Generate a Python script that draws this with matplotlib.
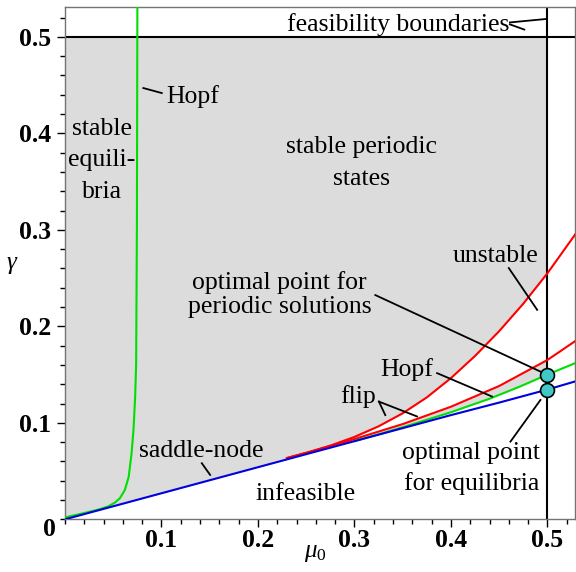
import numpy as np
import matplotlib.pyplot as plt
from matplotlib.ticker import MultipleLocator

plt.rcParams['font.family'] = ['Liberation Serif', 'DejaVu Serif']
plt.rcParams['mathtext.fontset'] = 'custom'
plt.rcParams['mathtext.rm'] = 'Liberation Serif'
plt.rcParams['mathtext.it'] = 'Liberation Serif:italic'

# saddle-node curve (blue)
sn_mu = [0, 0.05, 0.1, 0.15, 0.2, 0.25, 0.3, 0.35, 0.4, 0.45, 0.5, 0.529]
sn_gam = [0, 0.0135, 0.027, 0.0405, 0.054, 0.0675, 0.081, 0.0945, 0.108, 0.121, 0.1345, 0.143]

# Hopf curve of the equilibria (green, left)
hopf_eq_mu = [0, 0.02, 0.035, 0.045, 0.052, 0.057, 0.062, 0.066, 0.069, 0.071, 0.0727, 0.0737, 0.0745, 0.075]
hopf_eq_gam = [0.002, 0.0065, 0.0102, 0.0135, 0.0175, 0.022, 0.0304, 0.044, 0.0685, 0.093, 0.127, 0.16, 0.3, 0.531]

# Hopf curve of the periodic states (green, right)
hopf_per_mu = [0.30, 0.33, 0.36, 0.40, 0.44, 0.47, 0.50, 0.529]
hopf_per_gam = [0.081, 0.0895, 0.0985, 0.111, 0.125, 0.137, 0.150, 0.162]

# flip curves (red)
flip_lo_mu = [0.23, 0.26, 0.30, 0.35, 0.40, 0.45, 0.50, 0.529]
flip_lo_gam = [0.0635, 0.0716, 0.0832, 0.0987, 0.1167, 0.1382, 0.1652, 0.1849]
flip_hi_mu = [0.23, 0.25, 0.275, 0.30, 0.325, 0.35, 0.375, 0.40, 0.425, 0.45, 0.475, 0.50, 0.529]
flip_hi_gam = [0.0635, 0.0689, 0.0764, 0.0854, 0.0964, 0.1099, 0.1264, 0.1464, 0.1694, 0.1951, 0.2236, 0.2551, 0.2957]

# feasibility limits and optimal points
mu_max = 0.5
gam_max = 0.5
opt_mu = [0.5, 0.5]
opt_gam = [0.150, 0.1345]

fig = plt.figure(figsize=(5.76, 5.72), dpi=100)
ax = fig.add_axes([65/576, 1 - 519.3/572, 510/576, 512.3/572])
ax.set_xlim(0, 0.5285)
ax.set_ylim(0, 0.531)

# grey stable region, with white gaps between the bifurcation curves
grid = np.linspace(0, mu_max, 600)
sn_g = np.interp(grid, sn_mu, sn_gam)
ax.fill_between(grid, sn_g, gam_max, color='#dcdcdc', lw=0, zorder=0)
g2 = np.linspace(flip_lo_mu[0], mu_max, 300)
ax.fill_between(g2, np.interp(g2, flip_lo_mu, flip_lo_gam), np.interp(g2, flip_hi_mu, flip_hi_gam),
                color='white', lw=0, zorder=0.5)
g3 = np.linspace(hopf_per_mu[0], mu_max, 300)
ax.fill_between(g3, np.interp(g3, sn_mu, sn_gam), np.interp(g3, hopf_per_mu, hopf_per_gam),
                color='white', lw=0, zorder=0.5)

# feasibility boundaries
ax.axhline(gam_max, color='black', lw=1.5, zorder=2)
ax.axvline(mu_max, color='black', lw=1.5, zorder=2)

ax.plot(hopf_eq_mu, hopf_eq_gam, color='#00e000', lw=1.5, zorder=3)
ax.plot(flip_hi_mu, flip_hi_gam, color='red', lw=1.5, zorder=3)
ax.plot(flip_lo_mu, flip_lo_gam, color='red', lw=1.5, zorder=3)
ax.plot(hopf_per_mu, hopf_per_gam, color='#00e000', lw=1.5, zorder=3)
ax.plot(sn_mu, sn_gam, color='#0000e0', lw=1.5, zorder=4)
ax.plot(opt_mu, opt_gam, 'o', ms=10, mfc='#40c8c8', mec='black', mew=1.2, zorder=5)

fs = 18.5
ax.text(0.4606, 0.5065, 'feasibility boundaries', fontsize=fs, ha='right')
ax.text(0.1048, 0.4315, 'Hopf', fontsize=fs)
ax.text(0.038, 0.3987, 'stable', fontsize=fs, ha='center')
ax.text(0.038, 0.3658, 'equili-', fontsize=fs, ha='center')
ax.text(0.038, 0.333, 'bria', fontsize=fs, ha='center')
ax.text(0.3069, 0.3797, 'stable periodic', fontsize=fs, ha='center')
ax.text(0.3069, 0.3468, 'states', fontsize=fs, ha='center')
ax.text(0.2225, 0.2386, 'optimal point for', fontsize=fs, ha='center')
ax.text(0.2225, 0.2137, 'periodic solutions', fontsize=fs, ha='center')
ax.text(0.446, 0.2672, 'unstable', fontsize=fs, ha='center')
ax.text(0.3268, 0.1487, 'Hopf', fontsize=fs)
ax.text(0.2853, 0.1203, 'flip', fontsize=fs)
ax.text(0.0771, 0.065, 'saddle-node', fontsize=fs)
ax.text(0.197, 0.02, 'infeasible', fontsize=fs)
ax.text(0.421, 0.0625, 'optimal point', fontsize=fs, ha='center')
ax.text(0.421, 0.0304, 'for equilibria', fontsize=fs, ha='center')

# pointer lines
pointers = [
    ((0.461, 0.515), (0.4987, 0.5186)),
    ((0.461, 0.513), (0.476, 0.5076)),
    ((0.0812, 0.447), (0.1003, 0.4418)),
    ((0.3216, 0.2324), (0.4927, 0.1531)),
    ((0.4599, 0.2604), (0.4893, 0.2171)),
    ((0.3856, 0.1515), (0.4426, 0.1272)),
    ((0.3253, 0.122), (0.3319, 0.108)),
    ((0.3253, 0.122), (0.3648, 0.1066)),
    ((0.1418, 0.0581), (0.1504, 0.046)),
    ((0.4616, 0.0805), (0.4927, 0.1237)),
]
for (x0, y0), (x1, y1) in pointers:
    ax.plot([x0, x1], [y0, y1], color='black', lw=1.3, zorder=6)

ax.xaxis.set_minor_locator(MultipleLocator(0.02))
ax.yaxis.set_minor_locator(MultipleLocator(0.02))
ax.set_xticks([0.1, 0.2, 0.3, 0.4, 0.5])
ax.set_yticks([0.1, 0.2, 0.3, 0.4, 0.5])
ax.tick_params(which='major', length=6, width=1, labelsize=18.5)
ax.tick_params(axis='x', which='major', pad=1)
ax.tick_params(axis='y', which='major', pad=4)
ax.tick_params(which='minor', length=3.5, width=1)
for lab in ax.get_xticklabels() + ax.get_yticklabels():
    lab.set_fontweight('bold')
ax.text(-0.0166, -0.011, '0', fontsize=18.5, fontweight='bold', ha='center', va='center', clip_on=False)

for s in ax.spines.values():
    s.set_color('0.45')
    s.set_linewidth(1)

ax.text(0.49, -0.066, r'$\mu_0$', fontsize=18, ha='center', va='center', transform=ax.transAxes)
ax.text(-0.104, 0.496, r'$\gamma$', fontsize=18, ha='center', va='center', transform=ax.transAxes)

fig.savefig('out.png', dpi=100)
